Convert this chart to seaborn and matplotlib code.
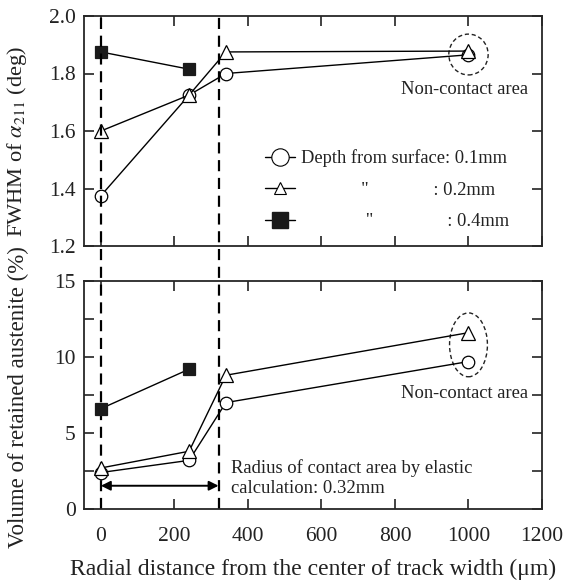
import numpy as np
import pandas as pd
import matplotlib
matplotlib.use("Agg")
import matplotlib.pyplot as plt
import seaborn as sns
from matplotlib.patches import Ellipse
from matplotlib.lines import Line2D
from matplotlib.transforms import blended_transform_factory

# ---- data ----
x_full = [0, 240, 340, 1000]
x_short = [0, 240]
fwhm_01 = [1.375, 1.725, 1.80, 1.865]
fwhm_02 = [1.60, 1.725, 1.875, 1.878]
fwhm_04 = [1.875, 1.815]
ra_01 = [2.4, 3.2, 7.0, 9.7]
ra_02 = [2.7, 3.8, 8.8, 11.6]
ra_04 = [6.6, 9.2]
depth_labels = ["Depth from surface: 0.1mm",
                "             \"              : 0.2mm",
                "              \"                : 0.4mm"]
contact_radius = [0, 320]

sns.set_theme(style="ticks")
plt.rcParams["font.family"] = ["Liberation Serif", "DejaVu Serif"]
plt.rcParams["mathtext.fontset"] = "stix"
plt.rcParams["axes.linewidth"] = 1.3

fig = plt.figure(figsize=(5.68, 5.81), dpi=100)
W, H = 568, 581
ax1 = fig.add_axes([84 / W, 1 - 246 / H, (542 - 84) / W, (246 - 16) / H])
ax2 = fig.add_axes([84 / W, 1 - 509 / H, (542 - 84) / W, (509 - 281) / H])

styles = [
    dict(marker="o", markersize=9, markerfacecolor="white", markeredgecolor="black", markeredgewidth=0.9),
    dict(marker="^", markersize=9.5, markerfacecolor="white", markeredgecolor="black", markeredgewidth=0.9),
    dict(marker="s", markersize=8.5, markerfacecolor="#1a1a1a", markeredgecolor="#1a1a1a", markeredgewidth=0.9),
]

def series(ax, xs, ys, st):
    df = pd.DataFrame({"x": xs, "y": ys})
    sns.lineplot(data=df, x="x", y="y", ax=ax, color="black", linewidth=1.0,
                 sort=False, estimator=None, **st)

series(ax1, x_full, fwhm_01, styles[0])
series(ax1, x_full, fwhm_02, styles[1])
series(ax1, x_short, fwhm_04, styles[2])
series(ax2, x_full, ra_01, styles[0])
series(ax2, x_full, ra_02, styles[1])
series(ax2, x_short, ra_04, styles[2])

for ax in (ax1, ax2):
    ax.set_xlim(-46, 1200)
    ax.set_xticks([0, 200, 400, 600, 800, 1000, 1200])
    ax.tick_params(direction="in", top=True, right=True, length=7, width=1.2,
                   labelsize=15.5, colors="#222222")
    ax.tick_params(axis="y", pad=6)
    ax.tick_params(axis="x", pad=13)
    ax.set_xlabel("")
    ax.set_ylabel("")

ax1.set_ylim(1.2, 2.0)
ax1.set_yticks([1.2, 1.4, 1.6, 1.8, 2.0])
ax1.set_yticklabels(["1.2", "1.4", "1.6", "1.8", "2.0"])
ax1.tick_params(labelbottom=False)
ax2.set_ylim(0, 15)
ax2.set_yticks([0, 5, 10, 15])
ax2.set_yticks([2.5, 7.5, 12.5], minor=True)
ax2.tick_params(which="minor", direction="in", right=True, length=7, width=1.2)

ax1.set_ylabel(r"FWHM of $\alpha_{211}$ (deg)", fontsize=16.2, color="#222222")
ax2.set_ylabel("Volume of retained austenite (%)", fontsize=16.5, color="#222222")
ax2.set_xlabel("Radial distance from the center of track width (\u03bcm)", fontsize=17,
               color="#222222", labelpad=9)
ax1.yaxis.set_label_coords(-0.12, 0.455)
ax2.yaxis.set_label_coords(-0.12, 0.49)

# dashed vertical lines spanning both panels
trans = blended_transform_factory(ax2.transData, fig.transFigure)
for xv in contact_radius:
    ax2.add_line(Line2D([xv, xv], [1 - 509 / H, 1 - 16 / H], transform=trans, clip_on=False,
                        color="black", linewidth=1.6, linestyle=(0, (5, 3)), zorder=1))

# non-contact ellipses
ax1.add_patch(Ellipse((1000, 1.866), 107, 0.142, fill=False, linestyle=(0, (3, 2)),
                      linewidth=1.0, edgecolor="#222222"))
ax2.add_patch(Ellipse((1000, 10.8), 103, 4.2, fill=False, linestyle=(0, (3, 2)),
                      linewidth=1.0, edgecolor="#222222"))
ax1.text(990, 1.746, "Non-contact area", ha="center", va="center", fontsize=13.3, color="#222222")
ax2.text(990, 7.57, "Non-contact area", ha="center", va="center", fontsize=13.3, color="#222222")

# arrow for radius of contact area
ax2.annotate("", xy=(contact_radius[0], 1.53), xytext=(contact_radius[1], 1.53),
             arrowprops=dict(arrowstyle="<|-|>", color="black", lw=1.4, shrinkA=0, shrinkB=0,
                             mutation_scale=14))
ax2.text(354, 2.05, "Radius of contact area by elastic\ncalculation: 0.32mm", ha="left",
         va="center", fontsize=13.4, color="#222222", linespacing=1.25)

# legend
handles = [
    Line2D([], [], color="black", lw=1.0, marker="o", markersize=12.5, markerfacecolor="white",
           markeredgecolor="black", markeredgewidth=0.8),
    Line2D([], [], color="black", lw=1.0, marker="^", markersize=8, markerfacecolor="white",
           markeredgecolor="black", markeredgewidth=0.8),
    Line2D([], [], color="black", lw=1.0, marker="s", markersize=11, markerfacecolor="#1a1a1a",
           markeredgecolor="#1a1a1a"),
]
leg = ax1.legend(handles, depth_labels, loc="upper left", bbox_to_anchor=(0.38, 0.452),
                 frameon=False, fontsize=13.3, handlelength=1.6, handletextpad=0.3,
                 labelspacing=0.78, borderaxespad=0)
for t in leg.get_texts():
    t.set_color("#222222")

fig.savefig("out.png", dpi=100)
